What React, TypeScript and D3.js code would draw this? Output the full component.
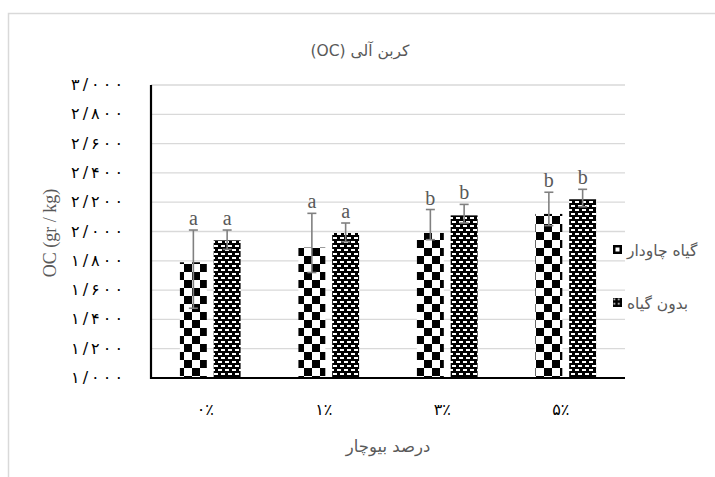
import React from 'react';
import * as d3 from 'd3';

const categories = ['۰٪', '۱٪', '۳٪', '۵٪'];
const seriesNames = ['گیاه چاودار', 'بدون گیاه'];
const ryeValues = [1.79, 1.89, 1.99, 2.12];
const ryeErrUp = [0.22, 0.234, 0.16, 0.148];
const ryeErrDown = [0.314, 0.17, 0.046, 0.08];
const ryeLetters = ['a', 'a', 'b', 'b'];
const noPlantValues = [1.94, 1.99, 2.11, 2.22];
const noPlantErrUp = [0.07, 0.068, 0.075, 0.068];
const noPlantErrDown = [0.062, 0.06, 0.052, 0.051];
const noPlantLetters = ['a', 'a', 'b', 'b'];
const yTicks = [1.0, 1.2, 1.4, 1.6, 1.8, 2.0, 2.2, 2.4, 2.6, 2.8, 3.0];
const title = 'کربن آلی (OC)';
const xTitle = 'درصد بیوچار';
const yTitle = 'OC (gr / kg)';

const W = 715;
const H = 477;
const plot = { left: 151, right: 625, top: 85, bottom: 378 };

const toPersian = (s: string) => s.replace(/[0-9]/g, (d) => '۰۱۲۳۴۵۶۷۸۹'[+d]);
const fmtTick = (v: number) => toPersian(v.toFixed(3)).replace('.', '/');

export default function App() {
  const x = d3.scaleBand<string>().domain(categories).range([plot.left, plot.right]).padding(0);
  const y = d3.scaleLinear().domain([1, 3]).range([plot.bottom, plot.top]);
  const bw = x.bandwidth();
  const barW = bw * 0.227;
  const innerGap = bw * 0.058;
  const pairW = barW * 2 + innerGap;

  const series = [
    { vals: ryeValues, up: ryeErrUp, down: ryeErrDown, letters: ryeLetters, fill: 'url(#checker)' },
    { vals: noPlantValues, up: noPlantErrUp, down: noPlantErrDown, letters: noPlantLetters, fill: 'url(#dashes)' },
  ];

  const serif = '"Liberation Serif", "Times New Roman", serif';
  const persian = '"DejaVu Sans", "Liberation Serif", sans-serif';

  return (
    <svg width={W} height={H} style={{ position: 'absolute', left: 0, top: 0, background: '#fff' }}>
      <defs>
        <pattern id="checker" width={16} height={16} patternUnits="userSpaceOnUse">
          <rect width={16} height={16} fill="#fff" />
          <rect x={0} y={0} width={8} height={8} fill="#000" />
          <rect x={8} y={8} width={8} height={8} fill="#000" />
        </pattern>
        <pattern id="dashes" width={7} height={8} patternUnits="userSpaceOnUse">
          <rect width={7} height={8} fill="#000" />
          <rect x={1} y={1} width={4} height={2} fill="#fff" shapeRendering="crispEdges" />
          <rect x={4} y={5} width={3} height={2} fill="#fff" shapeRendering="crispEdges" />
          <rect x={0} y={5} width={1} height={2} fill="#fff" shapeRendering="crispEdges" />
        </pattern>
        <pattern id="legdash" width={4.5} height={4.5} patternUnits="userSpaceOnUse">
          <rect width={4.5} height={4.5} fill="#000" />
          <rect x={1.5} y={1.5} width={1.6} height={1.6} fill="#fff" />
        </pattern>
      </defs>

      <rect x={8.5} y={13.5} width={W + 20} height={H + 20} fill="#fff" stroke="#d9d9d9" strokeWidth={1.5} />

      <text x={360} y={56} textAnchor="middle" direction="rtl" fontFamily={persian} fontSize={15.5} fill="#595959">
        {title}
      </text>

      {yTicks.slice(1).map((t) => (
        <line key={t} x1={plot.left} x2={plot.right} y1={y(t)} y2={y(t)} stroke="#d9d9d9" strokeWidth={1.3} />
      ))}

      {yTicks.map((t) => (
        <text key={t} x={123} y={y(t) + 5} textAnchor="end" fontFamily={persian} fontSize={16}
          textLength={52} lengthAdjust="spacing" fill="#000">
          {fmtTick(t)}
        </text>
      ))}

      {categories.map((c, i) => {
        const x0 = (x(c) as number) + (bw - pairW) / 2;
        return (
          <g key={c}>
            {series.map((s, k) => {
              const bx = x0 + k * (barW + innerGap);
              const cx = bx + barW / 2;
              const v = s.vals[i];
              const hi = y(v + s.up[i]);
              const lo = y(v - s.down[i]);
              return (
                <g key={k}>
                  <rect x={bx} y={y(v)} width={barW} height={plot.bottom - y(v)} fill={s.fill} />
                  <line x1={cx} x2={cx} y1={hi} y2={lo} stroke="#808080" strokeWidth={1.6} />
                  <line x1={cx - 4.5} x2={cx + 4.5} y1={hi} y2={hi} stroke="#808080" strokeWidth={1.6} />
                  <line x1={cx - 4.5} x2={cx + 4.5} y1={lo} y2={lo} stroke="#808080" strokeWidth={1.6} />
                  <text x={cx} y={hi - 5} textAnchor="middle" fontFamily={serif} fontSize={20} fill="#595959">
                    {s.letters[i]}
                  </text>
                </g>
              );
            })}
            <text x={(x(c) as number) + bw / 2 - 5} y={415} textAnchor="middle" fontFamily={persian} fontSize={16} fill="#000">
              {c}
            </text>
          </g>
        );
      })}

      <line x1={plot.left} x2={plot.left} y1={plot.top} y2={plot.bottom + 1} stroke="#000" strokeWidth={2.2} />
      <line x1={plot.left - 1} x2={plot.right} y1={plot.bottom} y2={plot.bottom} stroke="#000" strokeWidth={2.2} />

      <text x={(plot.left + plot.right) / 2} y={452} textAnchor="middle" direction="rtl" fontFamily={persian} fontSize={16.5} fill="#595959">
        {xTitle}
      </text>

      <text transform={`translate(56, 233) rotate(-90)`} textAnchor="middle" fontFamily={serif} fontSize={18} fill="#595959">
        {yTitle}
      </text>

      <g>
        <rect x={613} y={245} width={9} height={9} fill="#000" />
        <rect x={615.5} y={247.5} width={4} height={4} fill="#fff" />
        <text x={627} y={256} fontFamily={persian} fontSize={15.5} fill="#595959">{seriesNames[0]}</text>
        <rect x={613} y={298} width={9} height={9} fill="url(#legdash)" />
        <text x={627} y={309} fontFamily={persian} fontSize={15.5} fill="#595959">{seriesNames[1]}</text>
      </g>
    </svg>
  );
}
